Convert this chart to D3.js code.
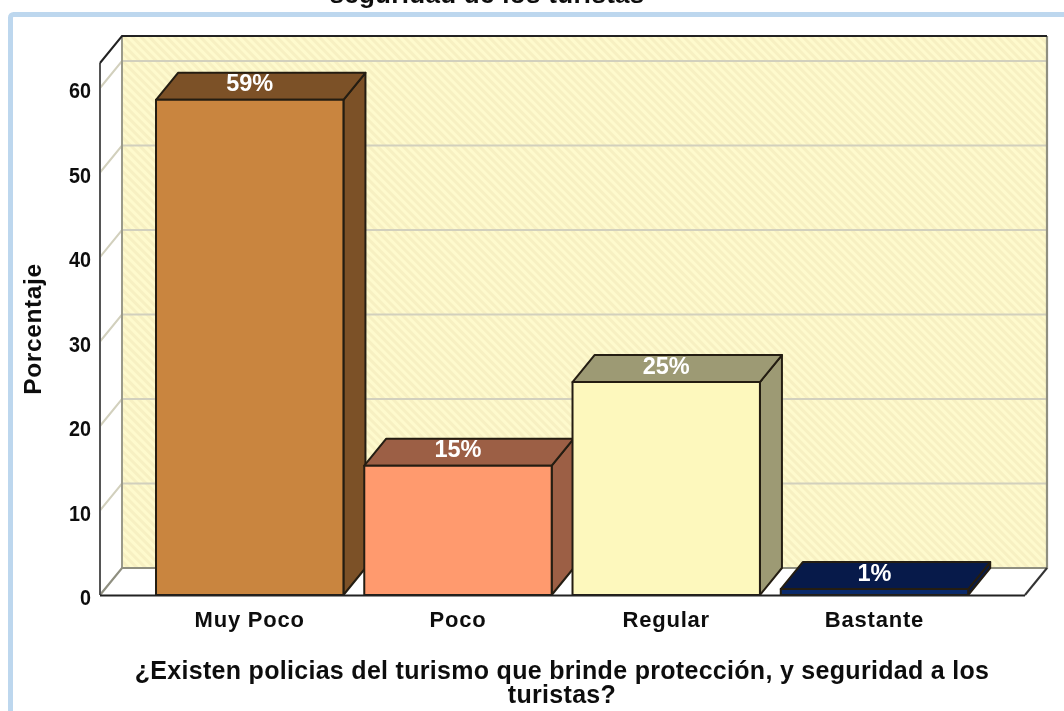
<!DOCTYPE html>
<html><head><meta charset="utf-8">
<script src="https://cdn.jsdelivr.net/npm/d3@7"></script>
<style>html,body{margin:0;padding:0;background:#fff}svg{display:block}text{font-family:"Liberation Sans",Arial,sans-serif;font-weight:bold}</style>
</head><body><svg id="c" width="1064" height="711"></svg>
<script>
const categories = ["Muy Poco","Poco","Regular","Bastante"];
const values = [58.6,15.3,25.2,0.7];
const valueLabels = ["59%","15%","25%","1%"];
const frontColors = ["#c9853f","#ff9a6e","#fdf8bd","#0b2a6b"];
const topColors = ["#7c5127","#9c5f45","#9d9a74","#071a4a"];
const yTicks = [0,10,20,30,40,50,60];
const titleLines = ["seguridad de los turistas"];
const xTitleLines = ["¿Existen policias del turismo que brinde protección, y seguridad a los","turistas?"];

const W=1064,H=711,dx=22,dy=-27;
const svg=d3.select("#c");
const defs=svg.append("defs");
const p=defs.append("pattern").attr("id","hatch").attr("width",6).attr("height",6).attr("patternUnits","userSpaceOnUse").attr("patternTransform","rotate(-45)");
p.append("rect").attr("width",6).attr("height",6).attr("fill","#fefacd");
p.append("rect").attr("width",3).attr("height",6).attr("fill","#f7f0c2");
const blur=defs.append("filter").attr("id","soft").attr("x","-5%").attr("y","-20%").attr("width","110%").attr("height","140%");
blur.append("feGaussianBlur").attr("stdDeviation",0.45);

svg.append("g").attr("filter","url(#soft)").selectAll("text").data(titleLines).join("text").attr("x",487).attr("y",3).attr("text-anchor","middle").attr("font-size",26).attr("letter-spacing",0.3).attr("fill","#111").text(d=>d);
svg.append("rect").attr("x",10.5).attr("y",14.5).attr("width",1070).attr("height",720).attr("rx",3).attr("fill","#fff").attr("stroke","#bdd7ee").attr("stroke-width",5);

const y=d3.scaleLinear().domain([0,60]).range([595,88]);
const x=d3.scaleBand().domain(categories).range([145.6,978.6]).paddingInner(0.1).paddingOuter(0.05);
const yTop=36-dy, xL=100, xR=1025;
const pts=a=>a.map(q=>q.join(",")).join(" ");
const g=svg.append("g");
g.append("polygon").attr("points",pts([[xL,yTop],[xL+dx,yTop+dy],[xL+dx,595+dy],[xL,595]])).attr("fill","#fff");
g.append("polygon").attr("points",pts([[xL,595],[xL+dx,595+dy],[xR+dx,595+dy],[xR,595]])).attr("fill","#fff");
g.append("rect").attr("x",xL+dx).attr("y",yTop+dy).attr("width",xR-xL).attr("height",595-yTop).attr("fill","url(#hatch)");
yTicks.forEach(t=>{ if(t===0) return;
 g.append("polyline").attr("points",pts([[xL,y(t)],[xL+dx,y(t)+dy],[xR+dx,y(t)+dy]])).attr("fill","none").attr("stroke","#d2d0bd").attr("stroke-width",2);
});
g.append("line").attr("x1",xL+dx).attr("x2",xL+dx).attr("y1",yTop+dy).attr("y2",595+dy).attr("stroke","#9a9a8a").attr("stroke-width",2);
g.append("polyline").attr("points",pts([[xL,595],[xL+dx,595+dy],[xR+dx,595+dy],[xR+dx,yTop+dy]])).attr("fill","none").attr("stroke","#8f8f80").attr("stroke-width",2.2);
g.append("line").attr("x1",xR).attr("x2",xR+dx).attr("y1",595).attr("y2",595+dy).attr("stroke","#333").attr("stroke-width",2);
g.append("line").attr("x1",xL).attr("x2",xL).attr("y1",yTop).attr("y2",595).attr("stroke","#555").attr("stroke-width",2);
g.append("polyline").attr("points",pts([[xL,yTop],[xL+dx,yTop+dy],[xR+dx,yTop+dy]])).attr("fill","none").attr("stroke","#222").attr("stroke-width",2);
const bars=g.selectAll("g.bar").data(categories).join("g").attr("class","bar");
const bw=x.bandwidth();
bars.each(function(c,i){
 const b=d3.select(this),x0=x(c),x1=x0+bw,yt=y(values[i]),y0=y(0);
 const st={stroke:"#241d12","stroke-width":2,"stroke-linejoin":"round"};
 const add=(pp,f)=>{const e=b.append("polygon").attr("points",pts(pp)).attr("fill",f);Object.entries(st).forEach(([k,v])=>e.attr(k,v));};
 add([[x1,yt],[x1+dx,yt+dy],[x1+dx,y0+dy],[x1,y0]],topColors[i]);
 add([[x0,yt],[x0+dx,yt+dy],[x1+dx,yt+dy],[x1,yt]],topColors[i]);
 add([[x0,yt],[x1,yt],[x1,y0],[x0,y0]],frontColors[i]);
});
g.append("line").attr("x1",xL).attr("x2",xR).attr("y1",595.5).attr("y2",595.5).attr("stroke","#222").attr("stroke-width",2);
const t=svg.append("g").attr("filter","url(#soft)");
t.selectAll("text.v").data(categories).join("text").attr("x",c=>x(c)+bw/2).attr("y",(c,i)=>y(values[i])-8.5).attr("text-anchor","middle").attr("font-size",23.5).attr("fill","#fff").text((c,i)=>valueLabels[i]);
t.selectAll("text.yt").data(yTicks).join("text").attr("x",91).attr("y",d=>y(d)+10).attr("text-anchor","end").attr("font-size",22).attr("fill","#111").attr("textLength",d=>d===0?11:22).attr("lengthAdjust","spacingAndGlyphs").text(d=>d);
t.selectAll("text.xt").data(categories).join("text").attr("x",c=>x(c)+bw/2).attr("y",627).attr("text-anchor","middle").attr("font-size",22).attr("letter-spacing",0.8).attr("fill","#111").text(c=>c);
t.append("text").attr("transform","translate(41,329) rotate(-90)").attr("text-anchor","middle").attr("font-size",24.5).attr("letter-spacing",0.6).attr("fill","#111").text("Porcentaje");
t.selectAll("text.xti").data(xTitleLines).join("text").attr("x",562).attr("y",(d,i)=>679+i*24).attr("text-anchor","middle").attr("font-size",25).attr("letter-spacing",0.3).attr("fill","#111").text(d=>d);
</script></body></html>
